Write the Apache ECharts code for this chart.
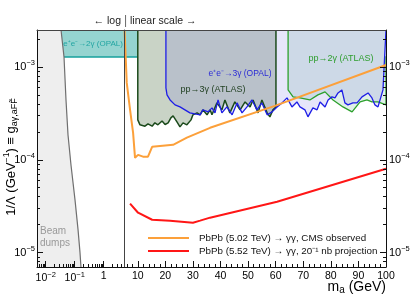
<!DOCTYPE html>
<html><head><meta charset="utf-8">
<script src="https://cdn.jsdelivr.net/npm/echarts@6/dist/echarts.min.js"></script>
<style>html,body{margin:0;padding:0;background:#fff}#c{width:416px;height:300px}</style>
</head><body><div id="c"></div>
<script>
// ---- axis ranges & tick labels ----
const yRange = [7e-6, 2.5e-3];
const xLogRange = [0.005, 5];
const xLinRange = [5, 100];
const yTicks = [1e-5, 1e-4, 1e-3];
const xLogTicks = [0.01, 0.1, 1];
const xLinTicks = [10, 20, 30, 40, 50, 60, 70, 80, 90, 100];

// ---- excluded regions (mass GeV, coupling GeV^-1) ----
const beamDumpEdge = [[0.0337,2.5e-3],[0.0427,1.28e-3],[0.05,4.41e-4],[0.0586,1.86e-4],[0.0743,8.8e-5],[0.102,3.72e-5],[0.130,1.77e-5],[0.152,1e-5],[0.164,7e-6]];
const opal2gLow = [[0.03,1.28e-3],[5,1.28e-3]];
const opal2gHigh = [[5,1.28e-3],[10,1.28e-3]];
const pp3gEdge = [[10,2.5e-3],[10,2.69e-4],[10.8,2.38e-4],[11.5,2.5e-4],[12.6,2.3e-4],[13.7,2.44e-4],[15.2,2.3e-4],[16.2,2.5e-4],[17.3,2.38e-4],[18.8,2.62e-4],[19.9,2.4e-4],[21.0,2.5e-4],[22.0,2.83e-4],[22.8,2.97e-4],[24.2,2.56e-4],[25.3,2.26e-4],[26.4,2.5e-4],[27.8,2.38e-4],[29.3,2.69e-4],[30.0,3.05e-4],[31.5,3.2e-4],[32.6,3.05e-4],[33.6,3.45e-4],[35.1,3.05e-4],[36.2,3.45e-4],[36.9,3.05e-4],[38.7,4.1e-4],[40.5,3.45e-4],[41.6,4.41e-4],[43.4,3.2e-4],[45.2,4.2e-4],[47.1,3.45e-4],[48.9,4.2e-4],[50.7,3.71e-4],[51.8,4.41e-4],[53.6,3.2e-4],[55.0,4.41e-4],[56.9,3.2e-4],[57.9,2.9e-4],[59.0,3.45e-4],[60.1,3.71e-4],[60.1,2.5e-3]];
const ee3gEdge = [[20.2,2.5e-3],[20.2,5.94e-4],[20.6,5.0e-4],[21.7,4.41e-4],[23.5,3.9e-4],[25.3,3.71e-4],[27.1,3.45e-4],[28.9,3.2e-4],[30.7,3.12e-4],[32.6,3.05e-4],[33.6,3.45e-4],[35.5,3.28e-4],[36.9,3.62e-4],[38.0,3.2e-4],[39.1,4.41e-4],[40.5,3.2e-4],[42.3,3.71e-4],[44.2,3.05e-4],[46.0,4.1e-4],[47.8,3.2e-4],[49.6,3.71e-4],[51.4,4.41e-4],[53.2,3.45e-4],[55.0,4.1e-4],[56.9,3.05e-4],[58.7,3.28e-4],[60.5,3.71e-4],[62.3,4.1e-4],[64.1,4.64e-4],[65.9,3.71e-4],[67.7,4.2e-4],[68.8,3.71e-4],[70.6,3.45e-4],[71.7,2.9e-4],[73.5,3.62e-4],[75.0,3.45e-4],[76.1,4.2e-4],[77.9,3.71e-4],[79.0,4.41e-4],[80.4,4.76e-4],[81.5,4.64e-4],[82.6,5.25e-4],[84.0,5.66e-4],[85.1,4.1e-4],[86.2,3.9e-4],[88.0,4.1e-4],[89.5,4.1e-4],[91.3,4.76e-4],[93.5,5.25e-4],[94.9,4.64e-4],[96.0,3.9e-4],[97.1,3.71e-4],[98.9,5.66e-4],[99.6,5.94e-4],[100,2.5e-3]];
const pp2gEdge = [[64.5,2.5e-3],[64.5,5.66e-4],[66.3,4.76e-4],[68.8,4.64e-4],[72.4,4.41e-4],[75.3,5.0e-4],[77.9,5.39e-4],[80.8,4.41e-4],[84.4,3.71e-4],[87.7,3.28e-4],[90.6,4.2e-4],[93.1,4.41e-4],[94.9,4.2e-4],[97.1,4.2e-4],[100,3.9e-4],[100,1.3e-3]];

// ---- PbPb curves ----
const cmsObserved = [[5.2,2.5e-3],[6.0,6.73e-4],[7.2,3.45e-4],[8.3,1.95e-4],[9.0,1.05e-4],[10.1,1.13e-4],[11.9,1.08e-4],[13.7,1.08e-4],[15.2,1.38e-4],[22.8,1.45e-4],[27.8,1.73e-4],[36.2,2.21e-4],[59.7,3.81e-4],[100,1.05e-3]];
const projection = [[7.2,3.37e-5],[10.1,2.69e-5],[15.2,2.26e-5],[21.7,2.21e-5],[30.0,2.1e-5],[32.6,2.21e-5],[36.2,2.38e-5],[60.5,3.53e-5],[100,8.0e-5]];
const seriesNames = ['PbPb (5.02 TeV) → γγ, CMS observed', 'PbPb (5.52 TeV) → γγ, 20⁻¹ nb projection'];

// minor tick positions (axis decoration)
const yMinor = []; for (const e of [-6,-5,-4,-3]) for (let k=2;k<=9;k++){const v=k*Math.pow(10,e); if(v>=yRange[0]&&v<=yRange[1]) yMinor.push(v);}
const xLogMinor = []; for (const e of [-3,-2,-1,0]) for (let k=2;k<=9;k++){const v=k*Math.pow(10,e); if(v>xLogRange[0]&&v<xLogRange[1]) xLogMinor.push(v);}
const xLinMinor = []; for (let v=6; v<100; v+=2) if (v%10) xLinMinor.push(v);

const FONT = '"Liberation Sans", Arial, Helvetica, sans-serif';
const supRich = { b:{fontSize:11,fontFamily:FONT,color:'#000'}, s:{fontSize:7.5,fontFamily:FONT,color:'#000',padding:[0,0,8,0]} };
function powLabel(v){ const e=Math.round(Math.log10(v)); if(e===0) return '{b|1}'; return '{b|10}{s|' + (e<0?'−'+(-e):e) + '}'; }

const G0 = {left:37, top:30, width:87, height:237};
const G1 = {left:124, top:30, width:262, height:237};
const lineCol = '#111';

function baseAxis(o){ return Object.assign({splitLine:{show:false}, axisLine:{show:false}, axisTick:{show:false}, axisLabel:{show:false}, z:10}, o); }

const xAxis = [
  baseAxis({gridIndex:0, type:'log', min:xLogRange[0], max:xLogRange[1], position:'bottom',
    axisLine:{show:true,lineStyle:{color:lineCol,width:1}},
    axisTick:{show:true,inside:true,length:6,customValues:xLogTicks,lineStyle:{color:lineCol}},
    axisLabel:{show:true,customValues:xLogTicks,formatter:powLabel,margin:4,rich:{b:{fontSize:10.5,fontFamily:FONT,color:'#000'},s:{fontSize:7.5,fontFamily:FONT,color:'#000',padding:[0,0,7,0]}}}}),
  baseAxis({gridIndex:0, type:'log', min:xLogRange[0], max:xLogRange[1], position:'bottom',
    axisTick:{show:true,inside:true,length:3,customValues:xLogMinor,lineStyle:{color:lineCol}}}),
  baseAxis({gridIndex:0, type:'log', min:xLogRange[0], max:xLogRange[1], position:'top',
    axisLine:{show:true,lineStyle:{color:'#444',width:1}}}),
  baseAxis({gridIndex:1, type:'value', min:xLinRange[0], max:xLinRange[1], position:'bottom',
    axisLine:{show:true,lineStyle:{color:lineCol,width:1}},
    axisTick:{show:true,inside:true,length:6,customValues:xLinTicks,lineStyle:{color:lineCol}},
    axisLabel:{show:true,customValues:xLinTicks,margin:4,fontSize:10.5,fontFamily:FONT,color:'#000'}}),
  baseAxis({gridIndex:1, type:'value', min:xLinRange[0], max:xLinRange[1], position:'bottom',
    axisTick:{show:true,inside:true,length:3,customValues:xLinMinor,lineStyle:{color:lineCol}}}),
  baseAxis({gridIndex:1, type:'value', min:xLinRange[0], max:xLinRange[1], position:'top',
    axisLine:{show:true,lineStyle:{color:'#444',width:1}}})
];
const yAxis = [
  baseAxis({gridIndex:0, type:'log', min:yRange[0], max:yRange[1], position:'left',
    axisLine:{show:true,lineStyle:{color:lineCol,width:1}},
    axisTick:{show:true,inside:true,length:6,customValues:yTicks,lineStyle:{color:lineCol}},
    axisLabel:{show:true,customValues:yTicks,formatter:powLabel,margin:2,rich:supRich}}),
  baseAxis({gridIndex:0, type:'log', min:yRange[0], max:yRange[1], position:'left',
    axisTick:{show:true,inside:true,length:3,customValues:yMinor,lineStyle:{color:lineCol}}}),
  baseAxis({gridIndex:0, type:'log', min:yRange[0], max:yRange[1], position:'right',
    axisLine:{show:true,lineStyle:{color:'#444',width:1}}}),
  baseAxis({gridIndex:1, type:'log', min:yRange[0], max:yRange[1], position:'right',
    axisLine:{show:true,lineStyle:{color:lineCol,width:1}},
    axisTick:{show:true,inside:true,length:6,customValues:yTicks,lineStyle:{color:lineCol}},
    axisLabel:{show:true,customValues:yTicks,formatter:powLabel,margin:3,rich:supRich}}),
  baseAxis({gridIndex:1, type:'log', min:yRange[0], max:yRange[1], position:'right',
    axisTick:{show:true,inside:true,length:3,customValues:yMinor,lineStyle:{color:lineCol}}})
];

function fill(data, xi, yi, color){
  return {type:'line', xAxisIndex:xi, yAxisIndex:yi, data, symbol:'none', silent:true,
    lineStyle:{width:0, opacity:0}, areaStyle:{color, origin:'end', opacity:1}, z:2};
}
function edge(data, xi, yi, color, w, name, z){
  const s = {type:'line', xAxisIndex:xi, yAxisIndex:yi, data, symbol:'none', showSymbol:false, silent:true,
    lineStyle:{color, width:w}, itemStyle:{color}, z:z||3};
  if (name) s.name = name;
  return s;
}

const series = [
  fill(opal2gLow, 0, 0, '#95d4d0'),
  fill(opal2gHigh, 3, 3, '#95d4d0'),
  edge(opal2gLow, 0, 0, '#16a09c', 1.3),
  edge(opal2gHigh, 3, 3, '#16a09c', 1.3),
  {type:'custom', xAxisIndex:0, yAxisIndex:0, data:beamDumpEdge, silent:true, z:4,
    renderItem:(params, api)=>{
      if (params.dataIndex !== 0) return null;
      const pts = beamDumpEdge.map(p=>api.coord(p));
      const tl = api.coord([xLogRange[0], yRange[1]]);
      const bl = api.coord([xLogRange[0], yRange[0]]);
      return {type:'group', children:[
        {type:'polygon', shape:{points:[tl].concat(pts,[bl])}, style:{fill:'#eeeeee'}},
        {type:'polyline', shape:{points:pts}, style:{stroke:'#6f6f6f', lineWidth:1.2, fill:null}}
      ]};
    }},
  fill(pp3gEdge, 3, 3, '#c9d3c6'),
  fill(pp2gEdge, 3, 3, '#e1f0e9'),
  fill(ee3gEdge, 3, 3, 'rgba(108,108,226,0.17)'),
  edge(pp3gEdge, 3, 3, '#1b4a1b', 1.5),
  edge(pp2gEdge, 3, 3, '#2ca02c', 1.3),
  edge(ee3gEdge, 3, 3, '#1e1ee6', 1.3),
  edge(cmsObserved, 3, 3, '#fca03a', 2, seriesNames[0], 5),
  edge(projection, 3, 3, '#ff1616', 2, seriesNames[1], 5)
];

const option = {
  animation:false,
  grid:[G0, G1],
  xAxis, yAxis, series,
  legend:{data:seriesNames, orient:'vertical', left:148, top:231.5, padding:0, itemGap:0, itemWidth:41, itemHeight:2,
    icon:'rect', selectedMode:false,
    textStyle:{fontSize:9.8, lineHeight:13, fontFamily:FONT, color:'#111', padding:[0,0,0,5]}},
  graphic:[
    {type:'text', x:121, y:21, style:{text:'← log', fontSize:10.5, fontFamily:FONT, fill:'#222', align:'right', verticalAlign:'middle'}},
    {type:'text', x:125.5, y:21, style:{text:'|', fontSize:12, fontFamily:FONT, fill:'#666', align:'center', verticalAlign:'middle'}},
    {type:'text', x:130, y:21, style:{text:'linear scale →', fontSize:10.5, fontFamily:FONT, fill:'#222', align:'left', verticalAlign:'middle'}},
    {type:'text', x:93, y:44, z:20, style:{text:'e⁺e⁻→2γ (OPAL)', fontSize:8, fontFamily:FONT, fill:'#22a5a2', align:'center', verticalAlign:'middle'}},
    {type:'text', x:213, y:90, z:20, style:{text:'pp→3γ (ATLAS)', fontSize:9, fontFamily:FONT, fill:'#1e3d1e', align:'center', verticalAlign:'middle'}},
    {type:'text', x:240, y:74, z:20, style:{text:'e⁺e⁻→3γ (OPAL)', fontSize:8.5, fontFamily:FONT, fill:'#2a2ad6', align:'center', verticalAlign:'middle'}},
    {type:'text', x:341, y:59, z:20, style:{text:'pp→2γ (ATLAS)', fontSize:9, fontFamily:FONT, fill:'#2e9e2e', align:'center', verticalAlign:'middle'}},
    {type:'text', x:40, y:231, z:20, style:{text:'Beam', fontSize:10, fontFamily:FONT, fill:'#999', align:'left', verticalAlign:'middle'}},
    {type:'text', x:40, y:243, z:20, style:{text:'dumps', fontSize:10, fontFamily:FONT, fill:'#999', align:'left', verticalAlign:'middle'}},
    {type:'text', x:11, y:157, rotation:Math.PI/2, z:20, style:{
      text:'{n|1/Λ (GeV}{sp|−1}{n|) ≡ g}{sb|aγ,aFF̃}', align:'center', verticalAlign:'middle',
      rich:{n:{fontSize:13,fontFamily:FONT,color:'#000'}, sp:{fontSize:8.5,fontFamily:FONT,color:'#000',padding:[0,0,8,0]}, sb:{fontSize:9,fontFamily:FONT,color:'#000',padding:[8,0,0,0]}}}},
    {type:'text', x:386, y:287, z:20, style:{
      text:'{n|m}{sb|a}{n| (GeV)}', align:'right', verticalAlign:'middle',
      rich:{n:{fontSize:14,fontFamily:FONT,color:'#000'}, sb:{fontSize:10,fontFamily:FONT,color:'#000',padding:[7,0,0,0]}}}}
  ]
};
const chart = echarts.init(document.getElementById('c'));
chart.setOption(option);
</script></body></html>
